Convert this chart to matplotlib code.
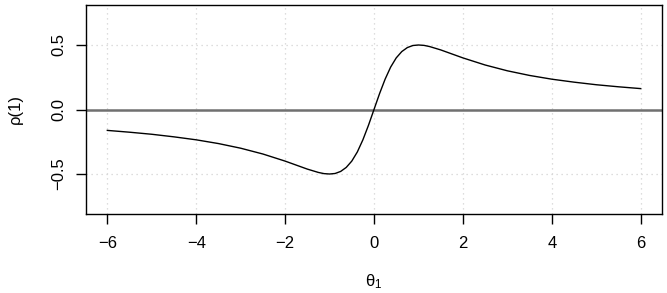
import matplotlib
matplotlib.use("Agg")
import matplotlib.pyplot as plt

plt.rcParams['font.family'] = ['Liberation Sans', 'DejaVu Sans']
plt.rcParams['mathtext.fontset'] = 'custom'
plt.rcParams['mathtext.rm'] = 'Liberation Sans'
plt.rcParams['mathtext.it'] = 'Liberation Sans'

theta = [-6.0, -5.5, -5.0, -4.5, -4.0, -3.5, -3.0, -2.5, -2.0, -1.75, -1.5, -1.25,
         -1.125, -1.0, -0.875, -0.75, -0.625, -0.5, -0.375, -0.25, -0.125, 0.0,
         0.125, 0.25, 0.375, 0.5, 0.625, 0.75, 0.875, 1.0, 1.125, 1.25, 1.5, 1.75,
         2.0, 2.5, 3.0, 3.5, 4.0, 4.5, 5.0, 5.5, 6.0]
rho = [-0.162, -0.176, -0.192, -0.212, -0.235, -0.264, -0.300, -0.345, -0.400, -0.431,
       -0.462, -0.488, -0.497, -0.500, -0.496, -0.480, -0.449, -0.400, -0.329, -0.235,
       -0.123, 0.0,
       0.123, 0.235, 0.329, 0.400, 0.449, 0.480, 0.496, 0.500, 0.497, 0.488, 0.462,
       0.431, 0.400, 0.345, 0.300, 0.264, 0.235, 0.212, 0.192, 0.176, 0.162]
xticks = [-6, -4, -2, 0, 2, 4, 6]
yticks = [-0.5, 0.0, 0.5]
ytick_labels = ['\u22120.5', '0.0', '0.5']
xtick_labels = ['\u22126', '\u22124', '\u22122', '0', '2', '4', '6']

fig = plt.figure(figsize=(6.67, 2.93), dpi=100)
ax = fig.add_axes([86/667, 1 - 214/293, (662-86)/667, (214-5)/293])

for x in xticks:
    ax.axvline(x, color='#d3d3d3', lw=0.9, ls=(0, (1, 3)), zorder=0)
for y in yticks:
    ax.axhline(y, color='#d3d3d3', lw=0.9, ls=(0, (1, 3)), zorder=0)

ax.axhline(0, color='#707070', lw=1.8, zorder=1)
ax.plot(theta, rho, color='black', lw=1.0, zorder=2)

ax.set_xlim(-6.48, 6.48)
ax.set_ylim(-0.81, 0.81)
ax.set_xticks(xticks)
ax.set_xticklabels(xtick_labels)
ax.set_yticks(yticks)
ax.set_yticklabels(ytick_labels, rotation=90, va='center')
ax.tick_params(direction='out', length=7, width=1, labelsize=12, pad=9)
ax.tick_params(axis='y', pad=7)
for s in ax.spines.values():
    s.set_linewidth(1.0)

ax.set_xlabel(r'$\mathrm{\theta}_1$', fontsize=12, labelpad=15)
ax.set_ylabel('\u03c1(1)', fontsize=12, labelpad=21)

fig.savefig('out.png', dpi=100)
